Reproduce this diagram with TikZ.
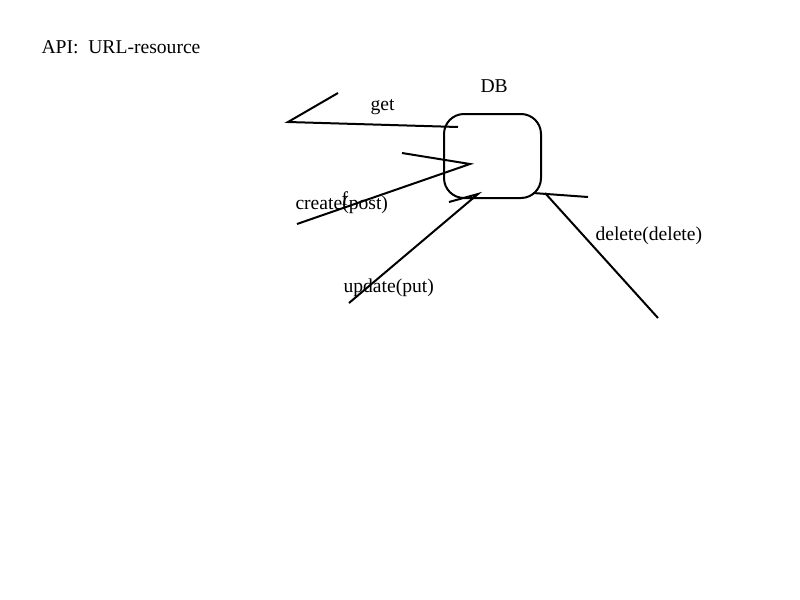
\documentclass[tikz,border=0pt]{standalone}
\usepackage{fontspec}
\setmainfont{Liberation Serif}
\tikzset{every picture/.style={line width=0.75pt}}
\tikzset{
  lbl/.style={anchor=base west, inner sep=0pt, font=\fontsize{14.7}{17}\selectfont},
  stroke/.style={line width=1.5}
}
\begin{document}
\begin{tikzpicture}[x=0.75pt,y=0.75pt,yscale=-1,xscale=1]
\useasboundingbox (0,0) rectangle (800,600);

\node (db) [draw, stroke, rounded corners=15pt, minimum width=72.75pt, minimum height=63pt, inner sep=0pt] at (492.5,156) {};

\coordinate (gettick) at (338,93);
\coordinate (getfree) at (288,122);
\coordinate (getin) at (458,127);
\coordinate (postfrom) at (402,153);
\coordinate (postin) at (470,164);
\coordinate (postfree) at (297,224);
\coordinate (puttick) at (449,202);
\coordinate (putin) at (478,194);
\coordinate (putfree) at (349,303);
\coordinate (deltick) at (533,193);
\coordinate (deltickend) at (588,197);
\coordinate (delin) at (545,193);
\coordinate (delfree) at (658,318);

\draw [stroke] (gettick) -- (getfree) -- (getin) ;
\draw [stroke] (postfrom) -- (postin) -- (postfree) ;
\draw [stroke] (puttick) -- (putin) -- (putfree) ;
\draw [stroke] (deltick) -- (deltickend) ;
\draw [stroke] (delin) -- (delfree) ;

\node (title) [lbl] at (41,53) {API:\ \ URL-resource};
\node (dblabel) [lbl] at (480,92) {DB};
\node (get) [lbl] at (370,110) {get};
\node (stray) [lbl] at (341,205) {f};
\node (post) [lbl] at (295,209) {create(post)};
\node (put) [lbl] at (343,292) {update(put)};
\node (del) [lbl] at (595,240) {delete(delete)};

\end{tikzpicture}
\end{document}
